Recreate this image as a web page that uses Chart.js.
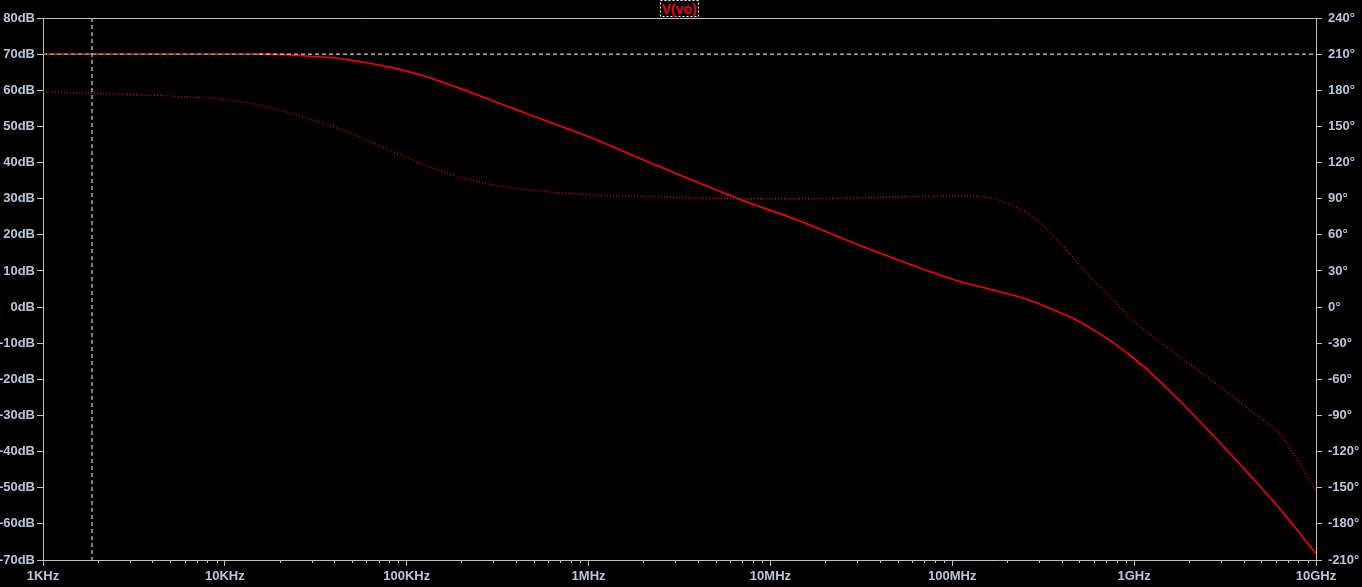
<!DOCTYPE html>
<html>
<head>
<meta charset="utf-8">
<script src="https://cdn.jsdelivr.net/npm/chart.js@4/dist/chart.umd.min.js"></script>
<style>
  html, body { margin: 0; padding: 0; background: #000; }
  canvas { display: block; }
</style>
</head>
<body>
<canvas id="bode" width="1362" height="587"></canvas>
<script>
// Magnitude trace V(vo), dB
const freqMag = [1e3, 15.4e3, 22.8e3, 29.4e3, 39.4e3, 49.5e3, 60.6e3, 81e3, 123e3, 189e3, 287e3, 437e3, 672e3,
  1.02e6, 1.92e6, 6.82e6, 14.0e6, 32.4e6, 75.6e6, 111e6, 168e6, 259e6, 393e6, 506e6, 597e6, 769e6, 918e6,
  1.18e9, 1.80e9, 2.73e9, 4.20e9, 6.37e9, 1e10]
const magDb = [70, 70, 69.8, 69.4, 69.0, 68.3, 67.6, 66.4, 64.0, 60.8, 57.4, 53.9, 50.4,
  47.0, 41.1, 29.8, 24.1, 16.7, 9.8, 7.0, 4.7, 2.1, -1.6, -4.2, -6.3, -9.9, -12.8,
  -17.3, -26.2, -35.6, -45.8, -56.0, -68.2]

// Phase trace V(vo), degrees
const freqPh = [1e3, 2.9e3, 6.7e3, 10.3e3, 15.6e3, 22.8e3, 34.8e3, 53.4e3, 81e3, 123e3, 189e3, 287e3, 437e3, 672e3,
  1.02e6, 1.92e6, 4.11e6, 14.6e6, 40.2e6, 75.6e6, 111e6, 168e6, 210e6, 259e6, 320e6, 393e6, 597e6, 769e6, 918e6,
  1.18e9, 1.38e9, 1.80e9, 2.73e9, 4.20e9, 6.37e9, 7.9e9, 1e10]
const phaseDeg = [178.5, 176.6, 174.2, 172, 167.5, 161, 152.5, 142, 130, 118.5, 108.5, 102, 97.8, 95,
  93.3, 92, 90.5, 90, 91, 92, 92.6, 90, 85, 78, 67, 53, 22, 6, -7,
  -21, -29, -42, -62, -84, -106, -127, -152]

// Cursor
const cursorFreq = 1.86e3
const cursorDb = 70
const cursorOverlapEnd = 15.4e3

// Axes
const freqTicks = [1e3, 1e4, 1e5, 1e6, 1e7, 1e8, 1e9, 1e10]
const freqLabels = ['1KHz', '10KHz', '100KHz', '1MHz', '10MHz', '100MHz', '1GHz', '10GHz']
const dbRange = [-70, 80]
const degRange = [-210, 240]
const traceName = 'V(vo)'

const AXIS = '#c0c0c0'
const LABEL = '#b6c8da'
const FONT = { family: 'Arial, "Liberation Sans", sans-serif', size: 13, weight: 'bold' }

const toXY = (xs, ys) => xs.map((x, i) => ({ x, y: ys[i] }))

// minor decade ticks + top frame line + trace label box
const extras = {
  id: 'extras',
  afterDraw(chart) {
    const { ctx, chartArea: a } = chart
    const xs = chart.scales.x
    ctx.save()
    ctx.strokeStyle = AXIS
    ctx.lineWidth = 1
    ctx.beginPath()
    ctx.moveTo(a.left, a.top + 0.5)
    ctx.lineTo(a.right, a.top + 0.5)
    for (let d = 1e3; d < 1e10; d *= 10) {
      for (let m = 2; m <= 9; m++) {
        const px = Math.round(xs.getPixelForValue(m * d)) + 0.5
        ctx.moveTo(px, a.bottom)
        ctx.lineTo(px, a.bottom + 3)
      }
    }
    ctx.stroke()

    ctx.font = 'bold 14px Arial, "Liberation Sans", sans-serif'
    const w = ctx.measureText(traceName).width
    const cx = (a.left + a.right) / 2
    ctx.setLineDash([2, 2])
    ctx.strokeStyle = '#ffffff'
    ctx.strokeRect(Math.round(cx - w / 2) - 1.5, 0.5, Math.round(w) + 3, 16)
    ctx.setLineDash([])
    ctx.fillStyle = '#ff0000'
    ctx.textAlign = 'center'
    ctx.textBaseline = 'alphabetic'
    ctx.fillText(traceName, cx, 14)
    ctx.restore()
  },
}

new Chart(document.getElementById('bode'), {
  type: 'line',
  data: {
    datasets: [
      {
        // horizontal cursor
        data: [{ x: freqTicks[0], y: cursorDb }, { x: cursorOverlapEnd, y: cursorDb }, { x: freqTicks[freqTicks.length - 1], y: cursorDb }],
        yAxisID: 'y',
        borderColor: '#ffffff',
        segment: { borderColor: c => (c.p1DataIndex === 1 ? '#00ffff' : '#ffffff') },
        borderWidth: 1,
        borderDash: [4, 3],
        pointRadius: 0,
      },
      {
        // vertical cursor
        data: [{ x: cursorFreq, y: dbRange[1] }, { x: cursorFreq, y: dbRange[0] }],
        yAxisID: 'y',
        borderColor: '#ffffff',
        borderWidth: 1,
        borderDash: [4, 3],
        pointRadius: 0,
      },
      {
        label: 'phase',
        data: toXY(freqPh, phaseDeg),
        yAxisID: 'y2',
        borderColor: '#ff0000',
        borderWidth: 1.2,
        borderDash: [1, 2],
        pointRadius: 0,
        cubicInterpolationMode: 'monotone',
      },
      {
        label: 'magnitude',
        data: toXY(freqMag, magDb),
        yAxisID: 'y',
        borderColor: '#ff0000',
        borderWidth: 1.6,
        pointRadius: 0,
        cubicInterpolationMode: 'monotone',
      },
    ],
  },
  options: {
    responsive: false,
    animation: false,
    devicePixelRatio: 1,
    layout: { padding: { top: 18, left: 0, right: 0, bottom: 0 } },
    plugins: { legend: { display: false }, tooltip: { enabled: false } },
    scales: {
      x: {
        type: 'logarithmic',
        min: freqTicks[0],
        max: freqTicks[freqTicks.length - 1],
        afterBuildTicks: s => { s.ticks = freqTicks.map(v => ({ value: v })) },
        afterFit: s => { s.height = 27 },
        border: { color: AXIS },
        grid: { drawOnChartArea: false, color: AXIS, tickLength: 6 },
        ticks: {
          color: LABEL, font: FONT, padding: 3, autoSkip: false, maxRotation: 0,
          callback: v => freqLabels[freqTicks.indexOf(v)] ?? '',
        },
      },
      y: {
        position: 'left',
        min: dbRange[0],
        max: dbRange[1],
        afterFit: s => { s.width = 43 },
        border: { color: AXIS },
        grid: { drawOnChartArea: false, color: AXIS, tickLength: 6 },
        ticks: { stepSize: 10, color: LABEL, font: FONT, padding: 2, callback: v => `${v}dB` },
      },
      y2: {
        position: 'right',
        min: degRange[0],
        max: degRange[1],
        afterFit: s => { s.width = 46 },
        border: { color: AXIS },
        grid: { drawOnChartArea: false, color: AXIS, tickLength: 6 },
        ticks: { stepSize: 30, color: LABEL, font: FONT, padding: 6, callback: v => `${v}°` },
      },
    },
  },
  plugins: [extras],
})
</script>
</body>
</html>
